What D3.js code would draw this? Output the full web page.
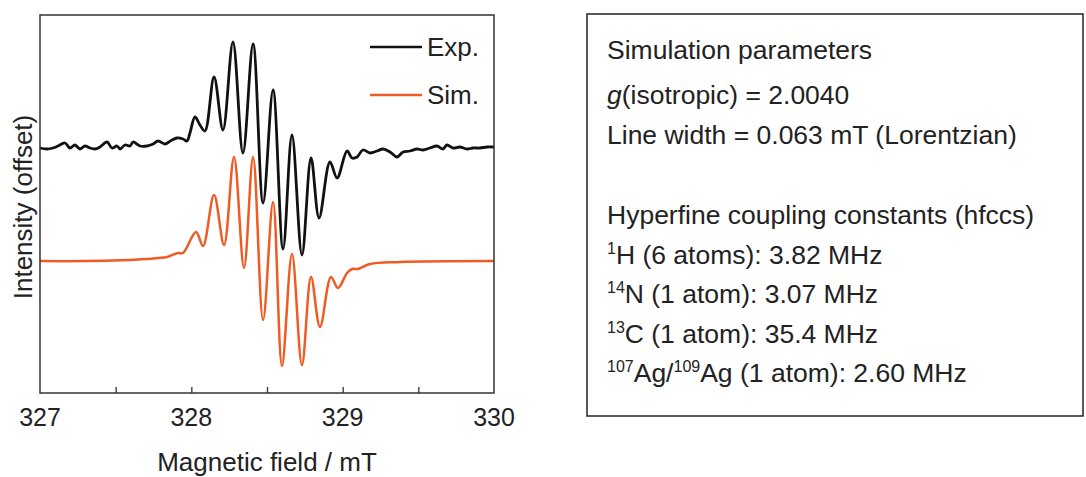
<!DOCTYPE html>
<html>
<head>
	<meta charset="utf-8">
	<script src="https://d3js.org/d3.v7.min.js"></script>
	<title>EPR spectrum</title>
	<style>
		body { margin: 0; background: #fff; }
		text { font-family: Arial, "Liberation Sans", sans-serif; fill: #222; }
	</style>
</head>
<body>
	<div id="chart"></div>

	<script type="text/javascript">

		// experimental spectrum (field in mT, intensity arb. units, before offset)
		var expField = [327.000, 327.046, 327.086, 327.119, 327.165, 327.198, 327.231, 327.264, 327.297, 327.330,
			327.363, 327.396, 327.443, 327.476, 327.509, 327.529, 327.562, 327.595, 327.615, 327.661,
			327.707, 327.747, 327.780, 327.826, 327.872, 327.905, 327.945, 327.971, 327.991, 328.024,
			328.057, 328.090, 328.150, 328.209, 328.275, 328.341, 328.408, 328.474, 328.540, 328.606,
			328.665, 328.731, 328.791, 328.844, 328.916, 328.963, 329.029, 329.062, 329.095, 329.134,
			329.181, 329.227, 329.267, 329.313, 329.359, 329.399, 329.445, 329.491, 329.531, 329.577,
			329.623, 329.663, 329.689, 329.729, 329.775, 329.822, 329.861, 329.908, 329.954, 330.000];
		var expIntensity = [0.00, -0.01, 0.00, 0.02, 0.05, 0.00, 0.03, -0.01, 0.02, 0.00,
			-0.01, 0.01, 0.06, 0.00, 0.02, -0.01, 0.03, 0.02, 0.06, 0.02,
			0.02, 0.04, 0.07, 0.04, 0.08, 0.10, 0.09, 0.07, 0.15, 0.31,
			0.23, 0.17, 0.71, 0.18, 1.06, -0.05, 1.04, -0.55, 0.58, -1.01,
			0.13, -1.07, -0.10, -0.70, -0.14, -0.30, -0.03, -0.10, -0.09, -0.02,
			-0.05, -0.03, -0.01, -0.04, -0.09, -0.04, -0.03, -0.01, -0.02, 0.00,
			0.02, -0.01, 0.03, 0.00, 0.01, -0.01, 0.00, 0.00, 0.01, 0.01];
		var expOffset = 1.13;

		// simulated spectrum
		var simField = [327.000, 327.297, 327.707, 327.780, 327.839, 327.912, 327.945, 328.031, 328.077, 328.150,
			328.216, 328.282, 328.348, 328.408, 328.474, 328.540, 328.599, 328.665, 328.731, 328.791,
			328.850, 328.923, 328.969, 329.029, 329.062, 329.101, 329.181, 329.379, 330.000];
		var simIntensity = [0.00, 0.00, 0.02, 0.03, 0.04, 0.08, 0.08, 0.29, 0.15, 0.66,
			0.16, 1.04, -0.07, 1.04, -0.59, 0.59, -1.05, 0.07, -1.04, -0.16,
			-0.66, -0.16, -0.27, -0.12, -0.08, -0.08, -0.03, -0.01, 0.00];

		var seriesNames = ["Exp.", "Sim."];
		var seriesColors = ["#111111", "#f15a22"];
		var xTickMarks = [327.5, 328, 328.5, 329, 329.5];
		var xTickLabels = [327, 328, 329, 330];

		var paramLines = [
			[{t: "Simulation parameters"}],
			[{t: "g", i: true}, {t: "(isotropic) = 2.0040"}],
			[{t: "Line width = 0.063 mT (Lorentzian)"}],
			[],
			[{t: "Hyperfine coupling constants (hfccs)"}],
			[{t: "1", sup: true}, {t: "H (6 atoms): 3.82 MHz"}],
			[{t: "14", sup: true}, {t: "N (1 atom): 3.07 MHz"}],
			[{t: "13", sup: true}, {t: "C (1 atom): 35.4 MHz"}],
			[{t: "107", sup: true}, {t: "Ag/"}, {t: "109", sup: true}, {t: "Ag (1 atom): 2.60 MHz"}]
		];

		var width = 1086, height = 477;
		var plotL = 40, plotR = 494, plotT = 15, plotB = 393;

		var svg = d3.select("#chart").append("svg")
			.attr("width", width)
			.attr("height", height);

		var x = d3.scaleLinear().domain([327, 330]).range([plotL, plotR]);
		var y = d3.scaleLinear().domain([-1.32, 2.46]).range([plotB, plotT]);

		var line = d3.line()
			.x(function(d) { return x(d[0]); })
			.y(function(d) { return y(d[1]); })
			.curve(d3.curveCatmullRom.alpha(0.5));

		var simData = simField.map(function(f, i) { return [f, simIntensity[i]]; });
		var expData = expField.map(function(f, i) { return [f, expIntensity[i] + expOffset]; });

		svg.append("path")
			.datum(simData)
			.attr("d", line)
			.attr("fill", "none")
			.attr("stroke", seriesColors[1])
			.attr("stroke-width", 2.5);

		svg.append("path")
			.datum(expData)
			.attr("d", line)
			.attr("fill", "none")
			.attr("stroke", seriesColors[0])
			.attr("stroke-width", 2.8)
			.attr("stroke-linejoin", "round");

		// frame
		svg.append("rect")
			.attr("x", plotL).attr("y", plotT)
			.attr("width", plotR - plotL).attr("height", plotB - plotT)
			.attr("fill", "none")
			.attr("stroke", "#333")
			.attr("stroke-width", 1.5);

		// inward ticks on bottom
		var xAxis = d3.axisBottom(x).tickValues(xTickMarks).tickSize(-6).tickFormat("");
		var gx = svg.append("g").attr("transform", "translate(0," + plotB + ")").call(xAxis);
		gx.select(".domain").remove();
		gx.selectAll("line").attr("stroke", "#333").attr("stroke-width", 1.3);

		svg.selectAll(".xlab")
			.data(xTickLabels).enter()
			.append("text")
			.attr("class", "xlab")
			.attr("x", function(d) { return x(d); })
			.attr("y", 426)
			.attr("text-anchor", "middle")
			.style("font-size", "25px")
			.text(function(d) { return d; });

		svg.append("text")
			.attr("x", (plotL + plotR) / 2)
			.attr("y", 471)
			.attr("text-anchor", "middle")
			.style("font-size", "26px")
			.text("Magnetic field / mT");

		svg.append("text")
			.attr("transform", "translate(32,207) rotate(-90)")
			.attr("text-anchor", "middle")
			.style("font-size", "26px")
			.text("Intensity (offset)");

		// legend
		var legend = svg.selectAll(".legend")
			.data(seriesNames).enter()
			.append("g")
			.attr("class", "legend")
			.attr("transform", function(d, i) { return "translate(370," + (47 + i * 48) + ")"; });

		legend.append("line")
			.attr("x1", 0).attr("x2", 52)
			.attr("stroke", function(d, i) { return seriesColors[i]; })
			.attr("stroke-width", 2.6);

		legend.append("text")
			.attr("x", 57)
			.attr("y", 9)
			.style("font-size", "26px")
			.text(function(d) { return d; });

		// parameter box
		svg.append("rect")
			.attr("x", 587).attr("y", 14)
			.attr("width", 496).attr("height", 402)
			.attr("fill", "none")
			.attr("stroke", "#222")
			.attr("stroke-width", 1.5);

		var baselines = [59, 104, 144, 184, 224, 264, 303, 343, 382];

		paramLines.forEach(function(parts, i) {
			if (parts.length == 0) return;
			var t = svg.append("text")
				.attr("x", 607)
				.attr("y", baselines[i])
				.style("font-size", "26.5px");
			parts.forEach(function(p) {
				var s = t.append("tspan").text(p.t);
				if (p.i) s.style("font-style", "italic");
				if (p.sup) s.style("font-size", "16px").attr("baseline-shift", "10px");
			});
		});

	</script>
</body>
</html>
